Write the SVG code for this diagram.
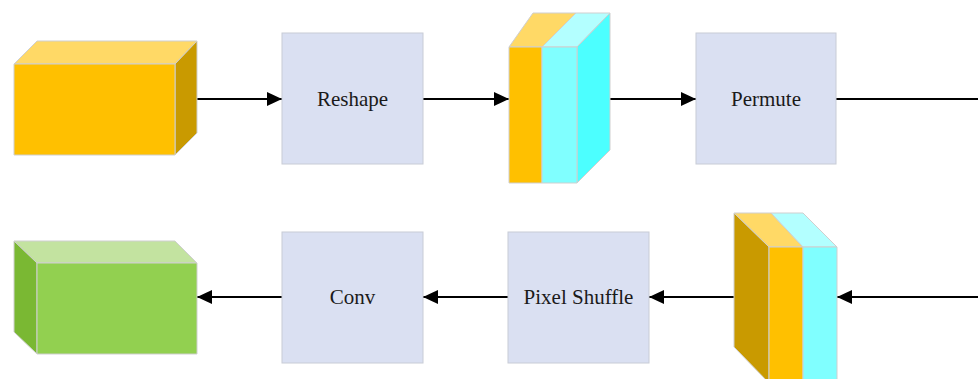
<svg xmlns="http://www.w3.org/2000/svg" width="978" height="379" viewBox="0 0 978 379">
  <style>
    .face { stroke: #cfcfcf; stroke-width: 1; stroke-linejoin: round; }
    .box { fill: #dae0f2; stroke: #c8ccd6; stroke-width: 1; }
    .label { font-family: "Liberation Serif", "Times New Roman", serif; font-size: 21px; fill: #1a1a1a; text-anchor: middle; }
    .link { stroke: #000; stroke-width: 2; fill: none; }
  </style>
  <defs>
    <marker id="arrow" viewBox="0 0 15 14" refX="15" refY="7" markerWidth="15" markerHeight="14" markerUnits="userSpaceOnUse" orient="auto">
      <path d="M0,0 L15,7 L0,14 Z" fill="#000"/>
    </marker>
  </defs>

  <rect width="978" height="379" fill="#fff"/>

  <!-- connectors -->
  <g id="connectors">
    <line class="link" x1="197" y1="99" x2="282" y2="99" marker-end="url(#arrow)"/>
    <line class="link" x1="423" y1="99" x2="509" y2="99" marker-end="url(#arrow)"/>
    <line class="link" x1="610" y1="99" x2="696" y2="99" marker-end="url(#arrow)"/>
    <line class="link" x1="836" y1="99" x2="978" y2="99"/>
    <line class="link" x1="978" y1="297" x2="837" y2="297" marker-end="url(#arrow)"/>
    <line class="link" x1="734" y1="297" x2="649" y2="297" marker-end="url(#arrow)"/>
    <line class="link" x1="508" y1="297" x2="423" y2="297" marker-end="url(#arrow)"/>
    <line class="link" x1="282" y1="297" x2="197" y2="297" marker-end="url(#arrow)"/>
  </g>

  <!-- input tensor -->
  <g id="input-tensor">
    <polygon class="face" fill="#ffd966" points="14,64 37,41 197,41 175,64"/>
    <polygon class="face" fill="#c99a00" points="175,64 197,41 197,133 175,155"/>
    <rect class="face" fill="#ffc000" x="14" y="64" width="161" height="91"/>
  </g>

  <g id="reshape">
    <rect class="box" x="282" y="33" width="141" height="131"/>
    <text class="label" x="352.5" y="106">Reshape</text>
  </g>

  <!-- split tensor -->
  <g id="split-tensor">
    <polygon class="face" fill="#ffd966" points="509,47 533,13 576,13 542,47"/>
    <polygon class="face" fill="#b3ffff" points="542,47 576,13 610,13 577,47"/>
    <polygon class="face" fill="#4cffff" points="577,47 610,13 610,150 577,183"/>
    <rect class="face" fill="#ffc000" x="509" y="47" width="33" height="136"/>
    <rect class="face" fill="#80ffff" x="542" y="47" width="35" height="136"/>
  </g>

  <g id="permute">
    <rect class="box" x="696" y="33" width="140" height="131"/>
    <text class="label" x="766" y="106">Permute</text>
  </g>

  <!-- permuted tensor -->
  <g id="permuted-tensor">
    <polygon class="face" fill="#ffd966" points="734,213 771,213 803,247 769,247"/>
    <polygon class="face" fill="#b3ffff" points="771,213 803,213 837,247 803,247"/>
    <polygon class="face" fill="#c99a00" points="734,213 769,247 769,383 734,347"/>
    <rect class="face" fill="#ffc000" x="769" y="247" width="34" height="136"/>
    <rect class="face" fill="#80ffff" x="803" y="247" width="34" height="136"/>
  </g>

  <g id="pixel-shuffle">
    <rect class="box" x="508" y="232" width="141" height="131"/>
    <text class="label" x="578.5" y="304">Pixel Shuffle</text>
  </g>

  <g id="conv">
    <rect class="box" x="282" y="232" width="141" height="131"/>
    <text class="label" x="352.5" y="304">Conv</text>
  </g>

  <!-- output tensor -->
  <g id="output-tensor">
    <polygon class="face" fill="#c3e3a0" points="14,241 175,241 197,263 37,263"/>
    <polygon class="face" fill="#7ab833" points="14,241 37,263 37,354 14,332"/>
    <rect class="face" fill="#92d050" x="37" y="263" width="160" height="91"/>
  </g>
</svg>
